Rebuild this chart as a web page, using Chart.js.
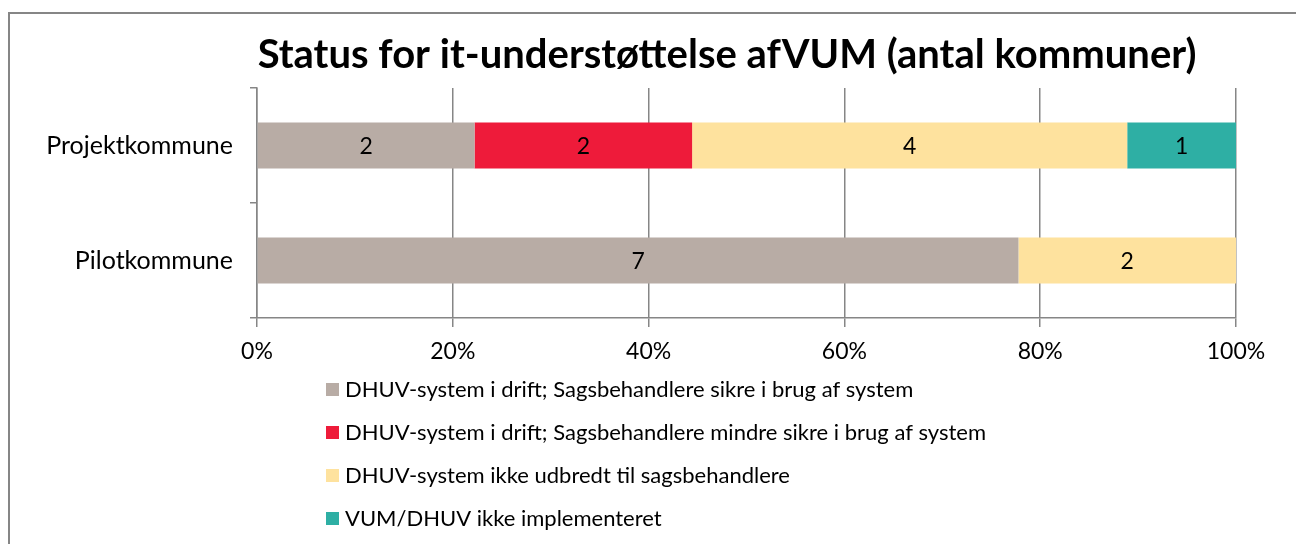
<!DOCTYPE html>
<html>
<head>
<meta charset="utf-8">
<script src="https://cdn.jsdelivr.net/npm/chart.js@4.4.1/dist/chart.umd.min.js"></script>
<style>
  html, body { margin: 0; padding: 0; background: #fff; overflow: hidden; }
  #wrap { position: relative; width: 1296px; height: 544px; }
  #frame { position: absolute; left: 8px; top: 12px; width: 1400px; height: 700px;
           border-left: 2px solid #868686; border-top: 2px solid #868686; }
  canvas { position: absolute; left: 0; top: 0; }
</style>
</head>
<body>
<div id="wrap">
  <div id="frame"></div>
  <canvas id="chart" width="1296" height="544"></canvas>
</div>
<script>
const categories = ["Projektkommune", "Pilotkommune"];
const seriesNames = [
  "DHUV-system i drift; Sagsbehandlere sikre i brug af system",
  "DHUV-system i drift; Sagsbehandlere mindre sikre i brug af system",
  "DHUV-system ikke udbredt til sagsbehandlere",
  "VUM/DHUV ikke implementeret"
];
const sikre = [2, 7];
const mindreSikre = [2, 0];
const ikkeUdbredt = [4, 2];
const ikkeImplementeret = [1, 0];
const seriesColors = ["#b8aca5", "#ee1b3a", "#fee29e", "#2eafa4"];
const titleText = "Status for it-understøttelse afVUM (antal kommuner)";

const counts = [sikre, mindreSikre, ikkeUdbredt, ikkeImplementeret];
const totals = categories.map((c, i) => counts.reduce((s, arr) => s + arr[i], 0));

const FONT = "Lato, 'Open Sans', sans-serif";
Chart.defaults.font.family = FONT;
Chart.defaults.color = "#000";

// title is a bit right of the canvas centre, so it is drawn here
const offsetTitle = {
  id: "offsetTitle",
  afterDraw(chart) {
    const ctx = chart.ctx;
    ctx.save();
    ctx.font = "bold 40px " + FONT;
    ctx.fillStyle = "#000";
    ctx.textAlign = "center";
    ctx.textBaseline = "middle";
    ctx.fillText(titleText, 727, 55);
    ctx.restore();
  }
};

// count labels in the middle of every segment
const segmentLabels = {
  id: "segmentLabels",
  afterDatasetsDraw(chart) {
    const ctx = chart.ctx;
    ctx.save();
    ctx.font = "23px " + FONT;
    ctx.fillStyle = "#000";
    ctx.textAlign = "center";
    ctx.textBaseline = "middle";
    chart.data.datasets.forEach((ds, di) => {
      chart.getDatasetMeta(di).data.forEach((bar, i) => {
        const n = ds.counts[i];
        if (!n) return;
        const cx = (bar.x + bar.base) / 2;
        ctx.fillText(String(n), cx, bar.y + 1);
      });
    });
    ctx.restore();
  }
};

// vertical legend below the axis
const stackedLegend = {
  id: "stackedLegend",
  afterDraw(chart) {
    const ctx = chart.ctx;
    ctx.save();
    ctx.font = "22px " + FONT;
    ctx.textBaseline = "middle";
    ctx.textAlign = "left";
    chart.data.datasets.forEach((ds, i) => {
      const y = 390 + i * 43;
      ctx.fillStyle = ds.backgroundColor;
      ctx.fillRect(326, y - 7, 13, 13);
      ctx.fillStyle = "#000";
      ctx.fillText(ds.label, 345, y);
    });
    ctx.restore();
  }
};

const datasets = seriesNames.map((name, d) => ({
  label: name,
  counts: counts[d],
  data: counts[d].map((v, i) => v / totals[i] * 100),
  backgroundColor: seriesColors[d],
  borderWidth: 0,
  barPercentage: 0.4,
  categoryPercentage: 1
}));

new Chart(document.getElementById("chart"), {
  type: "bar",
  data: { labels: categories, datasets: datasets },
  plugins: [offsetTitle, segmentLabels, stackedLegend],
  options: {
    indexAxis: "y",
    responsive: false,
    animation: false,
    layout: { padding: { left: 0, right: 60, top: 88, bottom: 176 } },
    plugins: {
      legend: { display: false },
      tooltip: { enabled: false },
      title: { display: false }
    },
    scales: {
      x: {
        stacked: true,
        min: 0,
        max: 100,
        ticks: {
          stepSize: 20,
          callback: v => v + "%",
          font: { size: 23 },
          padding: 11,
          color: "#000"
        },
        grid: { color: "#868686", lineWidth: 1.5, tickLength: 9, drawTicks: true },
        border: { color: "#868686", width: 1.5 },
        afterFit(scale) { scale.height = 50; }
      },
      y: {
        stacked: true,
        ticks: { font: { size: 25 }, padding: 17, color: "#000" },
        grid: { drawOnChartArea: false, color: "#868686", lineWidth: 1.5, tickLength: 7 },
        border: { color: "#868686", width: 1.5 },
        afterFit(scale) { scale.width = 257; }
      }
    }
  }
});
</script>
</body>
</html>
